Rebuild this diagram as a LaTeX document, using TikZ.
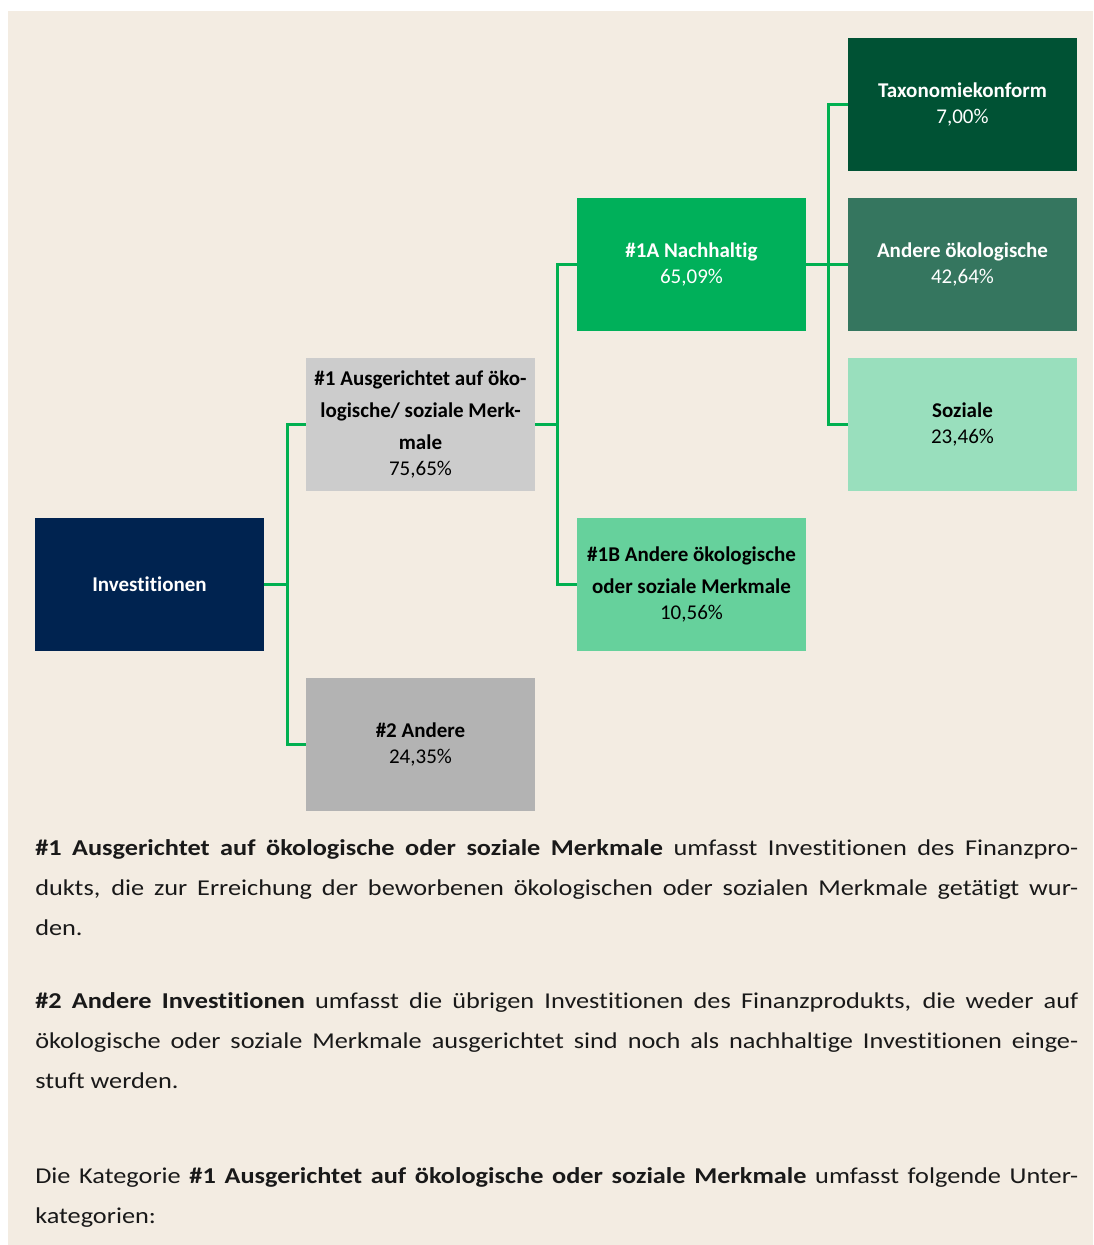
\documentclass[tikz,border=0pt]{standalone}
\usepackage{fontspec}
\setmainfont{Carlito}[Ligatures=NoCommon]
\newfontfamily\parfont{Carlito}[Ligatures=NoCommon,FakeStretch=1.16]
\usetikzlibrary{positioning}

\definecolor{beige}{RGB}{243,236,226}
\definecolor{navy}{RGB}{0,35,80}
\definecolor{grayA}{RGB}{204,204,204}
\definecolor{grayB}{RGB}{179,179,179}
\definecolor{greenA}{RGB}{0,176,90}
\definecolor{greenB}{RGB}{102,209,156}
\definecolor{taxgreen}{RGB}{0,82,52}
\definecolor{oekogreen}{RGB}{53,118,95}
\definecolor{sozgreen}{RGB}{153,223,189}
\definecolor{linkgreen}{RGB}{0,176,80}

\begin{document}
\begin{tikzpicture}[x=0.75pt,y=-0.75pt,
    box/.style={rectangle,minimum width=171.75pt,minimum height=99.75pt,inner sep=0pt,outer sep=0pt,align=center,font=\fontsize{15.75}{19.5}\selectfont},
    link/.style={draw=linkgreen,line width=2.25pt},
    par/.style={anchor=base west,inner sep=0pt,text=black!90,font=\parfont\fontsize{17}{20}\selectfont}]
    \useasboundingbox (0,0) rectangle (1093,1245);
    \fill[beige] (8,11) rectangle (1093,1245);

    % boxes
    \node[box,fill=navy,text=white] (inv) at (149.5,584.5) {\textbf{Investitionen}};
    \node[box,fill=grayA] (m1) at (420.5,424.5) {\textbf{\#1 Ausgerichtet auf öko-}\\[4.5pt]\textbf{logische/ soziale Merk-}\\[4.5pt]\textbf{male}\\75,65\%};
    \node[box,fill=grayB] (m2) at (420.5,744.5) {\textbf{\#2 Andere}\\24,35\%};
    \node[box,fill=greenA,text=white] (m1a) at (691.5,264.5) {\textbf{\#1A Nachhaltig}\\65,09\%};
    \node[box,fill=greenB] (m1b) at (691.5,584.5) {\textbf{\#1B Andere ökologische}\\[4.5pt]\textbf{oder soziale Merkmale}\\10,56\%};
    \node[box,fill=taxgreen,text=white] (tax) at (962.5,104.5) {\textbf{Taxonomiekonform}\\7,00\%};
    \node[box,fill=oekogreen,text=white] (oeko) at (962.5,264.5) {\textbf{Andere ökologische}\\42,64\%};
    \node[box,fill=sozgreen] (soz) at (962.5,424.5) {\textbf{Soziale}\\23,46\%};

    % connectors
    \draw[link] (inv.east) -- ++(23,0) |- (m1.west);
    \draw[link] (inv.east) -- ++(23,0) |- (m2.west);
    \draw[link] (m1.east) -- ++(22,0) |- (m1a.west);
    \draw[link] (m1.east) -- ++(22,0) |- (m1b.west);
    \draw[link] (m1a.east) -- ++(22,0) |- (tax.west);
    \draw[link] (m1a.east) -- ++(22,0) |- (oeko.west);
    \draw[link] (m1a.east) -- ++(22,0) |- (soz.west);

    % text below
    \node[par] (p1a) at (35,855) {\makebox[782.25pt][s]{\textbf{\#1 Ausgerichtet auf ökologische oder soziale Merkmale} umfasst Investitionen des Finanzpro-}};
    \node[par] (p1b) at (35,895) {\makebox[782.25pt][s]{dukts, die zur Erreichung der beworbenen ökologischen oder sozialen Merkmale getätigt wur-}};
    \node[par] (p1c) at (35,935) {den.};
    \node[par] (p2a) at (35,1008) {\makebox[782.25pt][s]{\textbf{\#2 Andere Investitionen} umfasst die übrigen Investitionen des Finanzprodukts, die weder auf}};
    \node[par] (p2b) at (35,1048) {\makebox[782.25pt][s]{ökologische oder soziale Merkmale ausgerichtet sind noch als nachhaltige Investitionen einge-}};
    \node[par] (p2c) at (35,1088) {stuft werden.};
    \node[par] (p3a) at (35,1183) {\makebox[782.25pt][s]{Die Kategorie \textbf{\#1 Ausgerichtet auf ökologische oder soziale Merkmale} umfasst folgende Unter-}};
    \node[par] (p3b) at (35,1223) {kategorien:};
\end{tikzpicture}
\end{document}
